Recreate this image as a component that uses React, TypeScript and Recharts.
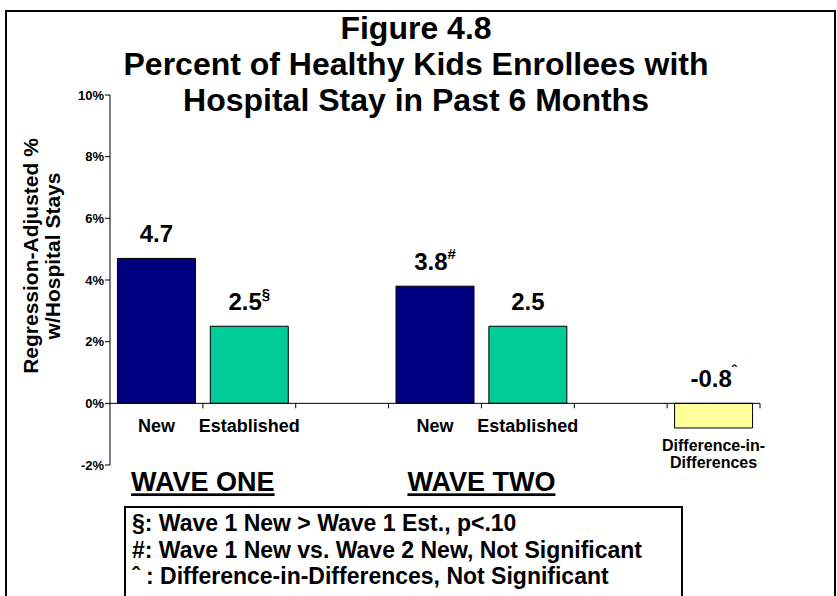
import React from 'react';
import { BarChart, Bar, XAxis, YAxis, Cell, LabelList, ReferenceLine } from 'recharts';

// chart values
const categories = ['New', 'Established', '', 'New', 'Established', '', 'Difference-in-\nDifferences'];
const values = [4.7, 2.5, null, 3.8, 2.5, null, -0.8];
const marks = ['', '§', '', '#', '', '', 'ˆ'];
const groupLabels = ['WAVE ONE', '', '', 'WAVE TWO', '', '', ''];
const yTicks = [-2, 0, 2, 4, 6, 8, 10];
const titleLines = ['Figure 4.8', 'Percent of Healthy Kids Enrollees with', 'Hospital Stay in Past 6 Months'];
const axisTitle = ['Regression-Adjusted %', 'w/Hospital Stays'];
const notes = [
  '§: Wave 1 New > Wave 1 Est., p<.10',
  '#: Wave 1 New vs. Wave 2 New, Not Significant',
  'ˆ : Difference-in-Differences, Not Significant',
];
const barColors = ['#000080', '#00CC99', '#000080', '#000080', '#00CC99', '#000080', '#FFFF99'];

const FONT = '"Liberation Sans", Arial, Helvetica, sans-serif';
const W = 837;
const H = 596;
const PLOT_LEFT = 110;
const PLOT_RIGHT = 760;
const PLOT_TOP = 95;
const PLOT_BOTTOM = 465;
const Y_MIN = -2;
const Y_MAX = 10;
const ZERO_Y = PLOT_TOP + ((PLOT_BOTTOM - PLOT_TOP) * Y_MAX) / (Y_MAX - Y_MIN);
const BAND = (PLOT_RIGHT - PLOT_LEFT) / categories.length;

const data = categories.map((name, i) => ({ key: `c${i}`, name, value: values[i], mark: marks[i] }));

const CategoryTick = ({ x, index }: any) => {
  const lines = categories[index].split('\n');
  const multi = lines.length > 1;
  const group = groupLabels[index];
  return (
    <g>
      <line x1={x + BAND / 2} x2={x + BAND / 2} y1={ZERO_Y} y2={ZERO_Y + 5} stroke="#000" strokeWidth={1} />
      {lines.map((ln, k) => (
        <text
          key={k}
          x={x}
          y={multi ? ZERO_Y + 48 + k * 17 : ZERO_Y + 29}
          textAnchor="middle"
          fontFamily={FONT}
          fontWeight="bold"
          fontSize={multi ? 16 : 18}
          fill="#000"
        >
          {ln}
        </text>
      ))}
      {group && (
        <text
          x={x + BAND / 2}
          y={ZERO_Y + 88}
          textAnchor="middle"
          fontFamily={FONT}
          fontWeight="bold"
          fontSize={27}
          fill="#000"
          textDecoration="underline"
        >
          {group}
        </text>
      )}
    </g>
  );
};

// label value comes in as "4.7|§"
const ValueLabel = ({ x, y, width, height, value }: any) => {
  if (value === null || value === undefined || value === '') return null;
  const [num, mark] = String(value).split('|');
  const top = Math.min(y, y + height);
  return (
    <text
      x={x + width / 2}
      y={top - 16}
      textAnchor="middle"
      fontFamily={FONT}
      fontWeight="bold"
      fontSize={24}
      fill="#000"
    >
      {num}
      {mark && (
        <tspan fontSize={15} dy={-11}>
          {mark}
        </tspan>
      )}
    </text>
  );
};

export default function App() {
  return (
    <div style={{ position: 'absolute', left: 0, top: 0, width: W, height: H, background: '#fff', overflow: 'hidden', fontFamily: FONT }}>
      <div style={{ position: 'absolute', left: 5, top: 10, width: 827, height: 640, border: '2px solid #000' }} />
      <BarChart
        width={W}
        height={H}
        data={data}
        margin={{ top: PLOT_TOP, right: W - PLOT_RIGHT, bottom: H - PLOT_BOTTOM - 30, left: PLOT_LEFT - 60 }}
        barCategoryGap="8%"
      >
        <YAxis
          width={60}
          domain={[Y_MIN, Y_MAX]}
          ticks={yTicks}
          tickFormatter={(v) => `${v}%`}
          axisLine={{ stroke: '#000' }}
          tickLine={{ stroke: '#000' }}
          tickSize={5}
          tickMargin={1}
          tick={{ fill: '#000', fontSize: 13, fontWeight: 'bold', fontFamily: FONT }}
        />
        <XAxis
          dataKey="key"
          height={30}
          interval={0}
          axisLine={false}
          tickLine={false}
          tick={<CategoryTick />}
        />
        <ReferenceLine y={0} stroke="#000" strokeWidth={1} />
        <Bar dataKey="value" isAnimationActive={false} stroke="#000" strokeWidth={1}>
          {data.map((d, i) => (
            <Cell key={d.key} fill={barColors[i]} />
          ))}
          <LabelList
            dataKey={(d: any) => (d.value === null ? '' : `${d.value.toFixed(1)}|${d.mark}`)}
            content={<ValueLabel />}
          />
        </Bar>
      </BarChart>
      <svg width={W} height={H} style={{ position: 'absolute', left: 0, top: 0, pointerEvents: 'none' }}>
        {titleLines.map((t, i) => (
          <text key={t} x={416} y={39 + i * 36} textAnchor="middle" fontFamily={FONT} fontWeight="bold" fontSize={32} fill="#000">
            {t}
          </text>
        ))}
        {axisTitle.map((t, i) => (
          <text
            key={t}
            transform={`translate(${30 + i * 22}, 256) rotate(-90)`}
            textAnchor="middle"
            dominantBaseline="central"
            fontFamily={FONT}
            fontWeight="bold"
            fontSize={21}
            fill="#000"
          >
            {t}
          </text>
        ))}
      </svg>
      <div
        style={{
          position: 'absolute',
          left: 124,
          top: 506,
          width: 549,
          height: 120,
          border: '2px solid #000',
          padding: '2px 0 0 6px',
          fontSize: 23,
          fontWeight: 'bold',
          lineHeight: '26.5px',
          color: '#000',
          whiteSpace: 'nowrap',
        }}
      >
        {notes.map((n) => (
          <div key={n}>{n}</div>
        ))}
      </div>
    </div>
  );
}
